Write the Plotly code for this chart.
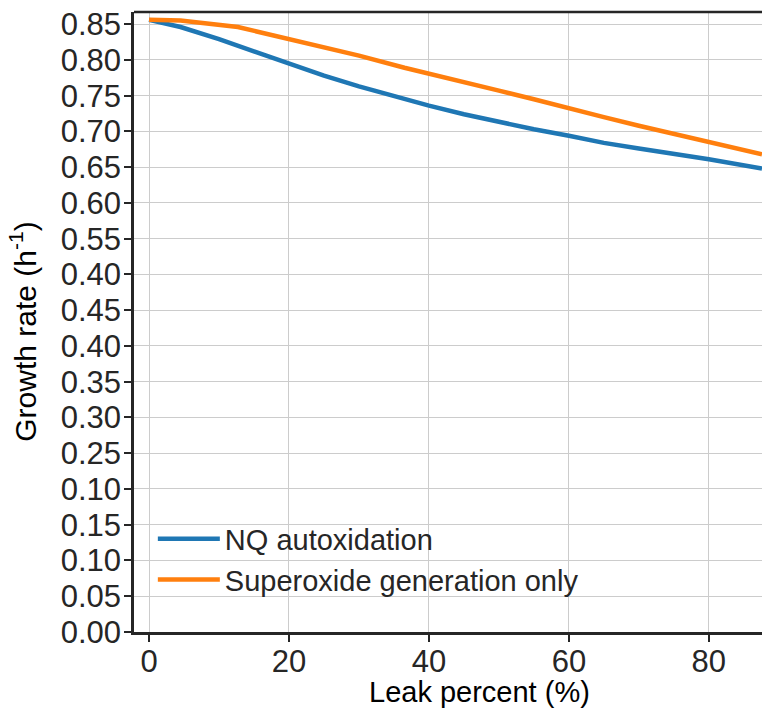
import plotly.graph_objects as go

leak_nq = [0, 2, 4.5, 10, 15, 20, 25, 30, 35, 40, 45, 50, 55, 60, 65, 70, 75, 80, 87.6]
growth_nq = [0.856, 0.852, 0.846, 0.829, 0.812, 0.795, 0.778, 0.763, 0.749, 0.736, 0.724, 0.713, 0.703, 0.694, 0.684, 0.676, 0.669, 0.661, 0.648]

leak_sup = [0, 4.5, 12.7, 20, 25, 30, 36.5, 40, 45, 50, 55, 60, 65, 70, 75, 80, 87.6]
growth_sup = [0.856, 0.855, 0.846, 0.829, 0.817, 0.806, 0.789, 0.781, 0.769, 0.757, 0.745, 0.732, 0.720, 0.708, 0.697, 0.685, 0.668]

y_tickvals = [0.00, 0.05, 0.10, 0.15, 0.20, 0.25, 0.30, 0.35, 0.40, 0.45, 0.50, 0.55, 0.60, 0.65, 0.70, 0.75, 0.80, 0.85]
y_ticktext = ["0.00", "0.05", "0.10", "0.15", "0.10", "0.25", "0.30", "0.35", "0.40", "0.45", "0.40", "0.55", "0.60", "0.65", "0.70", "0.75", "0.80", "0.85"]
x_tickvals = [0, 20, 40, 60, 80]

FONT = "Liberation Sans, Arial, sans-serif"
DARK = "#262626"
FS = 31

fig = go.Figure()
fig.add_trace(go.Scatter(x=leak_nq, y=growth_nq, mode="lines", name="NQ autoxidation",
                         line=dict(color="#1f77b4", width=4.5)))
fig.add_trace(go.Scatter(x=leak_sup, y=growth_sup, mode="lines", name="Superoxide generation only",
                         line=dict(color="#ff7f0e", width=4.5)))

fig.update_layout(
    width=762, height=713,
    margin=dict(l=134, r=0, t=12, b=81, autoexpand=False),
    paper_bgcolor="white", plot_bgcolor="white",
    font=dict(family=FONT, size=FS, color=DARK),
    showlegend=True,
    legend=dict(x=0.03, y=0.117, xanchor="left", yanchor="middle",
                bgcolor="rgba(0,0,0,0)", font=dict(size=29, color=DARK),
                itemwidth=62, tracegroupgap=0),
    xaxis=dict(range=[-2.15, 87.6], tickvals=x_tickvals, showgrid=True,
               gridcolor="#cccccc", gridwidth=1, zeroline=False,
               showline=True, linecolor=DARK, linewidth=2.5, mirror=False,
               ticks="outside", ticklen=7, tickwidth=1.5, tickcolor=DARK,
               ticklabelstandoff=-7,
               tickfont=dict(size=FS, color=DARK)),
    yaxis=dict(range=[0, 0.867], tickvals=y_tickvals, ticktext=y_ticktext, showgrid=True,
               gridcolor="#cccccc", gridwidth=1, zeroline=False,
               showline=True, linecolor=DARK, linewidth=2.5,
               ticks="outside", ticklen=7, tickwidth=1.5, tickcolor=DARK,
               ticklabelstandoff=-3,
               tickfont=dict(size=FS, color=DARK)),
)

# top spine
fig.add_shape(type="line", xref="paper", yref="paper", x0=0, x1=1, y0=1, y1=1,
              line=dict(color=DARK, width=2.5))

fig.add_annotation(text="Leak percent (%)", xref="paper", yref="paper",
                   x=0.55, y=-0.097, xanchor="center", yanchor="middle",
                   showarrow=False, font=dict(size=29, color="black"))
fig.add_annotation(text="Growth rate (h<sup>-1</sup>)", xref="paper", yref="paper",
                   x=-0.176, y=0.485, xanchor="center", yanchor="middle", textangle=-90,
                   showarrow=False, font=dict(size=30, color="black"))

fig.write_html("out.html", config={"displayModeBar": False},
               post_script="document.body.style.margin='0';document.body.style.overflow='hidden';")
